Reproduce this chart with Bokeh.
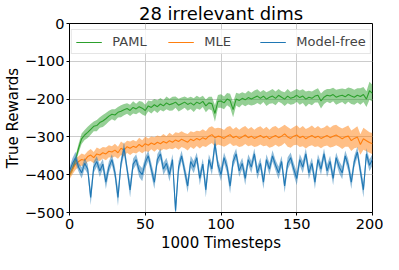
from bokeh.plotting import figure
from bokeh.models import Legend, LegendItem, FixedTicker, Range1d
from bokeh.embed import file_html
from bokeh.resources import INLINE

steps = list(range(0, 201, 2))

paml_mean = [
    -400, -385, -360, -330, -305, -295, -288, -280, -272, -270,
    -262, -258, -252, -245, -240, -242, -235, -232, -228, -225,
    -230, -222, -226, -220, -224, -230, -218, -222, -215, -220,
    -213, -218, -210, -215, -212, -208, -216, -212, -208, -214,
    -210, -216, -208, -212, -206, -218, -210, -212, -238, -206,
    -205, -210, -200, -204, -228, -200, -204, -198, -202, -196,
    -200, -196, -192, -198, -192, -200, -195, -192, -198, -190,
    -195, -200, -192, -198, -195, -190, -196, -192, -200, -195,
    -198, -192, -190, -205, -195, -190, -192, -188, -195, -192,
    -190, -194, -188, -192, -195, -190, -193, -188, -200, -178,
    -185]
paml_std = [
    6, 8, 10, 12, 14, 13, 15, 14, 13, 15,
    14, 16, 15, 14, 13, 15, 14, 16, 15, 14,
    15, 16, 14, 15, 17, 15, 14, 16, 15, 17,
    16, 15, 17, 16, 18, 15, 17, 16, 15, 17,
    16, 18, 17, 16, 15, 17, 16, 18, 22, 17,
    18, 17, 16, 18, 20, 17, 18, 16, 17, 18,
    17, 19, 18, 17, 16, 18, 17, 19, 18, 17,
    16, 18, 19, 17, 18, 17, 19, 18, 20, 17,
    18, 17, 19, 20, 18, 17, 19, 18, 20, 19,
    18, 20, 19, 21, 20, 19, 22, 20, 21, 24,
    22]

mle_mean = [
    -400, -385, -372, -365, -360, -362, -352, -348, -355, -345,
    -348, -342, -345, -338, -340, -335, -342, -330, -335, -326,
    -330, -325, -328, -320, -326, -318, -322, -316, -320, -314,
    -318, -312, -316, -310, -314, -308, -312, -306, -310, -314,
    -306, -310, -304, -308, -302, -306, -298, -294, -302, -298,
    -300, -304, -298, -294, -302, -298, -304, -300, -295, -302,
    -298, -304, -300, -296, -302, -298, -305, -300, -296, -302,
    -298, -292, -300, -304, -298, -295, -302, -298, -305, -300,
    -296, -302, -298, -304, -300, -296, -302, -298, -295, -300,
    -305, -300, -298, -310, -304, -300, -320, -305, -310, -315,
    -318]
mle_std = [
    12, 14, 15, 14, 16, 15, 14, 16, 15, 17,
    16, 15, 17, 16, 15, 17, 16, 18, 17, 16,
    18, 17, 16, 18, 17, 19, 18, 17, 19, 18,
    19, 20, 18, 21, 19, 20, 22, 21, 20, 22,
    21, 22, 20, 23, 22, 21, 23, 22, 24, 22,
    23, 22, 24, 23, 22, 24, 23, 25, 24, 23,
    24, 23, 25, 24, 23, 25, 24, 26, 25, 24,
    25, 24, 26, 25, 24, 26, 25, 27, 26, 25,
    26, 25, 27, 26, 25, 27, 26, 28, 27, 26,
    27, 26, 28, 27, 26, 28, 27, 29, 28, 27,
    28]

mf_mean = [
    -390, -370, -355, -380, -395, -370, -385, -460, -380, -365,
    -390, -372, -420, -380, -360, -395, -460, -370, -330, -385,
    -440, -372, -360, -390, -400, -368, -350, -385, -420, -360,
    -345, -385, -370, -400, -360, -495, -380, -350, -390, -430,
    -365, -380, -355, -410, -372, -440, -360, -385, -318, -375,
    -400, -355, -380, -430, -365, -345, -390, -370, -410, -360,
    -380, -345, -395, -370, -420, -360, -385, -350, -375, -395,
    -365, -430, -370, -355, -385, -410, -360, -380, -345, -395,
    -370, -420, -360, -385, -345, -390, -365, -410, -355, -380,
    -395, -350, -375, -420, -365, -340, -390, -440, -345, -375,
    -360]
mf_std = [
    10, 14, 16, 12, 15, 14, 13, 20, 15, 14,
    16, 14, 18, 15, 14, 16, 22, 15, 18, 14,
    20, 15, 14, 16, 17, 15, 14, 16, 18, 15,
    14, 16, 15, 18, 15, 25, 16, 14, 16, 18,
    15, 16, 14, 18, 15, 20, 14, 16, 18, 15,
    17, 14, 16, 20, 15, 14, 16, 15, 18, 14,
    16, 14, 17, 15, 18, 14, 16, 15, 14, 17,
    15, 18, 16, 14, 16, 18, 15, 16, 14, 17,
    15, 18, 14, 16, 14, 17, 15, 18, 14, 16,
    17, 14, 16, 18, 15, 14, 16, 20, 15, 16,
    15]

series = [
    ("PAML", paml_mean, paml_std, "#2ca02c"),
    ("MLE", mle_mean, mle_std, "#ff7f0e"),
    ("Model-free", mf_mean, mf_std, "#1f77b4"),
]

x_ticks = [0, 50, 100, 150, 200]
y_ticks = [-500, -400, -300, -200, -100, 0]
x_label = "1000 Timesteps"
y_label = "True Rewards"
title = "28 irrelevant dims"

FONT = "DejaVu Sans"

p = figure(width=383, height=254, output_backend="svg", toolbar_location=None,
           x_range=Range1d(0, 200), y_range=Range1d(-500, 0),
           min_border_left=61, min_border_right=11, min_border_top=14, min_border_bottom=0)

p.title.text = title
p.title.align = "center"
p.title.text_font = FONT
p.title.text_font_size = "18px"
p.title.text_font_style = "normal"
p.title.text_color = "black"
p.title.standoff = 0
p.title.offset = 0

items = []
for name, mean, std, color in series:
    lo = [m - s for m, s in zip(mean, std)]
    hi = [m + s for m, s in zip(mean, std)]
    p.varea(x=steps, y1=lo, y2=hi, fill_color=color, fill_alpha=0.5)
    r = p.line(x=steps, y=mean, line_color=color, line_width=1.1)
    items.append(LegendItem(label=name, renderers=[r]))

legend = Legend(items=items, orientation="horizontal", location="top_center",
                label_text_font=FONT, label_text_font_size="13px",
                glyph_width=26, glyph_height=14, label_standoff=11, label_width=45,
                spacing=10, padding=4, margin=6,
                border_line_color="#cccccc", border_line_width=1,
                background_fill_color="white", background_fill_alpha=0.8)
p.add_layout(legend)

for ax in (p.xaxis[0], p.yaxis[0]):
    ax.major_label_text_font = FONT
    ax.major_label_text_font_size = "14.5px"
    ax.major_label_text_color = "black"
    ax.axis_label_text_font = FONT
    ax.axis_label_text_font_size = "15px"
    ax.axis_label_text_font_style = "normal"
    ax.axis_label_text_color = "black"
    ax.axis_line_color = "black"
    ax.major_tick_line_color = "black"
    ax.major_tick_out = 3
    ax.major_tick_in = 0
    ax.minor_tick_out = 0
    ax.minor_tick_in = 0
    ax.major_label_standoff = 2
    ax.axis_label_standoff = 0

p.xaxis.major_label_standoff = 3
p.xaxis.axis_label_standoff = 2
p.xaxis.ticker = FixedTicker(ticks=x_ticks)
p.yaxis.ticker = FixedTicker(ticks=y_ticks)
p.xaxis.axis_label = x_label
p.yaxis.axis_label = y_label

p.xgrid.grid_line_color = "#cccccc"
p.ygrid.grid_line_color = "#cccccc"
p.xgrid.ticker = FixedTicker(ticks=x_ticks)
p.ygrid.ticker = FixedTicker(ticks=y_ticks)
p.outline_line_color = "black"
p.outline_line_alpha = 1.0
p.background_fill_color = "white"
p.border_fill_color = "white"

open("out.html", "w").write(file_html(p, INLINE))
